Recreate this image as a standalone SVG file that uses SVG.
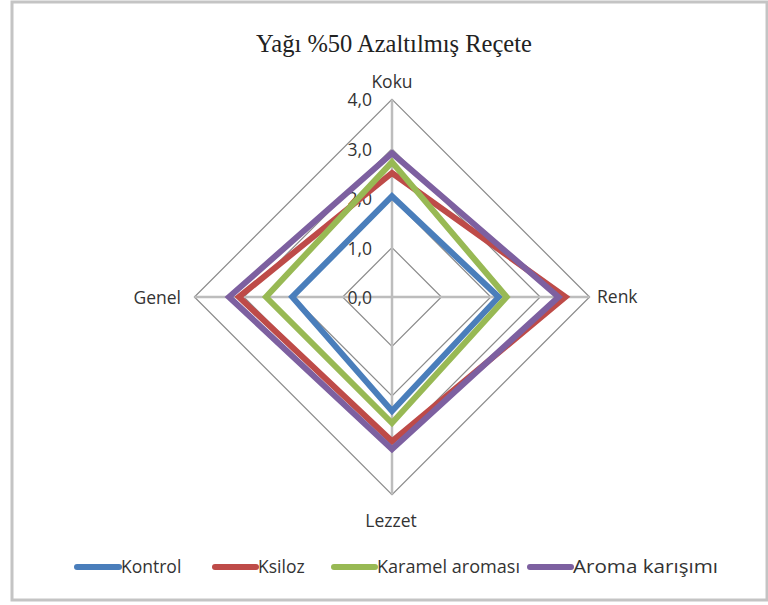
<svg xmlns="http://www.w3.org/2000/svg" width="768" height="605" viewBox="0 0 768 605">
<style>
.lbl{font-family:"Open Sans","Liberation Sans",sans-serif;font-size:17.5px;fill:#333}
.tick{font-family:"Open Sans","Liberation Sans",sans-serif;font-size:17.5px;fill:#333;text-anchor:end}
.title{font-family:"Liberation Serif","Times New Roman",serif;font-size:24.5px;fill:#222;text-anchor:middle}
.ring{fill:none;stroke:#8a8a8a;stroke-width:1.2}
.axis{stroke:#bdbdbd;stroke-width:2.5}
.ser{fill:none;stroke-width:6;stroke-linejoin:miter}
.leg{stroke-width:6;stroke-linecap:round}
</style>
<rect x="0" y="0" width="768" height="605" fill="#fff"/>
<rect x="12" y="2" width="755" height="598" fill="#fff" stroke="#c4c4c4" stroke-width="3"/>
<text class="title" x="394" y="52">Yağı %50 Azaltılmış Reçete</text>
<g id="grid">
<polygon class="ring" points="392,247.6 441.4,297 392,346.4 342.6,297"/>
<polygon class="ring" points="392,198.2 490.8,297 392,395.8 293.2,297"/>
<polygon class="ring" points="392,148.8 540.2,297 392,445.2 243.8,297"/>
<polygon class="ring" points="392,99.4 589.6,297 392,494.6 194.4,297"/>
<line class="axis" x1="392" y1="297" x2="392" y2="99.4"/>
<line class="axis" x1="392" y1="297" x2="589.6" y2="297"/>
<line class="axis" x1="392" y1="297" x2="392" y2="494.6"/>
<line class="axis" x1="392" y1="297" x2="194.4" y2="297"/>
</g>
<g id="ticks">
<text class="tick" x="372" y="304">0,0</text>
<text class="tick" x="372" y="254.6">1,0</text>
<text class="tick" x="372" y="205.2">2,0</text>
<text class="tick" x="372" y="155.8">3,0</text>
<text class="tick" x="372" y="106.4">4,0</text>
</g>
<g id="connectors">
<polygon id="s-kontrol" class="ser" stroke="#4a7ebb" points="392,196.2 498.7,297 392,411.1 292.2,297"/>
<polygon id="s-ksiloz" class="ser" stroke="#be4b48" points="392,173 565.4,297 392,441.2 238.9,297"/>
<polygon id="s-karamel" class="ser" stroke="#98b954" points="392,162.1 506.6,297 392,423 266,297"/>
<polygon id="s-aroma" class="ser" stroke="#7d60a0" points="392,153.2 558.5,297 392,449.2 229,297"/>
</g>
<g id="node-koku"><text class="lbl" x="392" y="88" text-anchor="middle">Koku</text></g>
<g id="node-renk"><text class="lbl" x="597" y="303">Renk</text></g>
<g id="node-lezzet"><text class="lbl" x="391" y="527" text-anchor="middle">Lezzet</text></g>
<g id="node-genel"><text class="lbl" x="181" y="304" text-anchor="end">Genel</text></g>
<g id="legend">
<line class="leg" x1="77" y1="567" x2="119" y2="567" stroke="#4a7ebb"/>
<text class="lbl" x="121" y="573">Kontrol</text>
<line class="leg" x1="215" y1="567" x2="256" y2="567" stroke="#be4b48"/>
<text class="lbl" x="258" y="573">Ksiloz</text>
<line class="leg" x1="334" y1="567" x2="375" y2="567" stroke="#98b954"/>
<text class="lbl" x="377" y="573" textLength="143" lengthAdjust="spacingAndGlyphs">Karamel aroması</text>
<line class="leg" x1="530" y1="567" x2="571" y2="567" stroke="#7d60a0"/>
<text class="lbl" x="573" y="573" textLength="145" lengthAdjust="spacingAndGlyphs">Aroma karışımı</text>
</g>
</svg>
